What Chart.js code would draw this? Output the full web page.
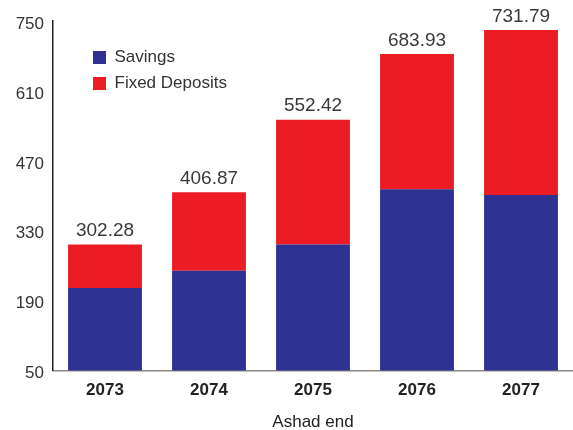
<!DOCTYPE html>
<html>
<head>
<meta charset="utf-8">
<script src="https://cdn.jsdelivr.net/npm/chart.js@4/dist/chart.umd.min.js"></script>
<style>
  html, body { margin: 0; padding: 0; background: #fff; }
  canvas { display: block; }
</style>
</head>
<body>
<canvas id="deposits" width="573" height="430"></canvas>
<script>
const years = ['2073', '2074', '2075', '2076', '2077'];
const savings = [215.6, 249.9, 302.3, 413.2, 401.7];
const fixedDeposits = [86.68, 156.97, 250.12, 270.73, 330.09];
const yTicks = [50, 190, 330, 470, 610, 750];

const FONT = '"Liberation Sans", Arial, Helvetica, sans-serif';

// writes the stacked total over each bar
const totalsPlugin = {
  id: 'totals',
  afterDatasetsDraw(chart) {
    const ctx = chart.ctx;
    const top = chart.getDatasetMeta(1);
    ctx.save();
    ctx.font = '19px ' + FONT;
    ctx.fillStyle = '#3a3a3a';
    ctx.textAlign = 'center';
    ctx.textBaseline = 'bottom';
    top.data.forEach((bar, i) => {
      const total = savings[i] + fixedDeposits[i];
      ctx.fillText(total.toFixed(2), bar.x, bar.y - 4);
    });
    ctx.restore();
  }
};

// put the legend inside the plot, upper left
const legendSpot = {
  id: 'legendSpot',
  afterLayout(chart) {
    const lg = chart.legend;
    if (!lg) return;
    const h = lg.height;
    lg.left = 84;
    lg.top = 40;
    lg.bottom = lg.top + h;
  }
};

new Chart(document.getElementById('deposits'), {
  type: 'bar',
  data: {
    labels: years,
    datasets: [
      { label: 'Savings', data: savings, backgroundColor: '#2e3192', borderWidth: 0 },
      { label: 'Fixed Deposits', data: fixedDeposits, backgroundColor: '#ed1c24', borderWidth: 0 }
    ]
  },
  options: {
    responsive: false,
    animation: false,
    layout: { padding: { top: 21, right: -2, left: 0, bottom: -1 } },
    datasets: { bar: { categoryPercentage: 1, barPercentage: 0.71 } },
    scales: {
      x: {
        stacked: true,
        grid: { display: false, drawTicks: false },
        border: { display: true, color: '#8a8a8a', width: 1.5 },
        ticks: { color: '#222', font: { family: FONT, size: 17, weight: 'bold' }, padding: 10 },
        title: { display: true, text: 'Ashad end', color: '#222', font: { family: FONT, size: 17, lineHeight: 1 }, padding: { top: 3, bottom: 0 } }
      },
      y: {
        stacked: true,
        min: 50,
        max: 750,
        afterBuildTicks(axis) { axis.ticks = yTicks.map(v => ({ value: v })); },
        afterFit(axis) { axis.width = 53; },
        grid: { display: false, drawTicks: false },
        border: { display: true, color: '#222', width: 1.5 },
        ticks: { color: '#333', font: { family: FONT, size: 17 }, padding: 9, labelOffset: 3 }
      }
    },
    plugins: {
      legend: {
        position: 'chartArea',
        align: 'start',
        labels: {
          boxWidth: 13,
          boxHeight: 13,
          padding: 9,
          color: '#333',
          font: { family: FONT, size: 17 }
        }
      },
      tooltip: { enabled: false }
    }
  },
  plugins: [totalsPlugin, legendSpot]
});
</script>
</body>
</html>
